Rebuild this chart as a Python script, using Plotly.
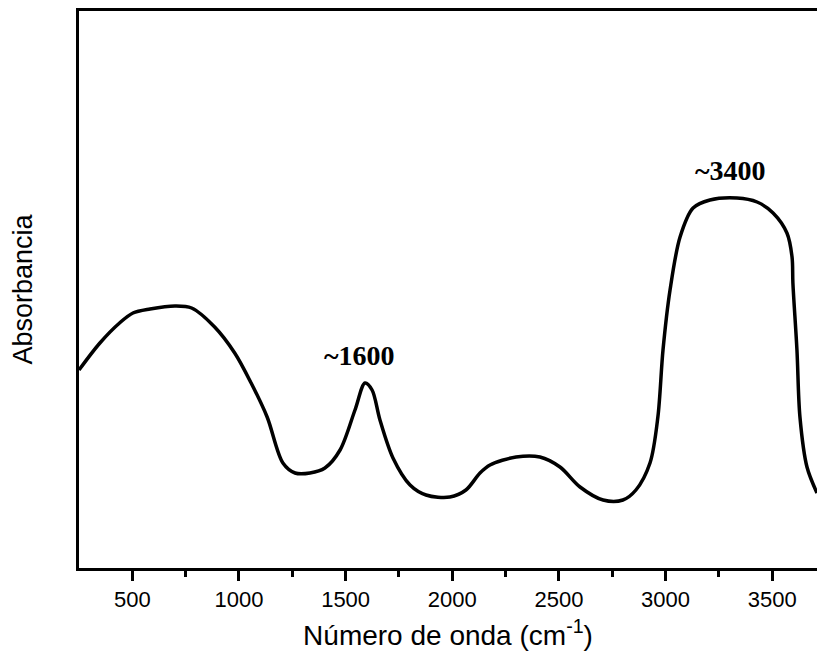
import plotly.graph_objects as go

wavenumber = [250, 348, 440, 503, 583, 700, 778, 886, 980, 1057, 1132, 1206, 1263, 1333, 1403, 1474, 1544, 1591, 1624,
              1661, 1722, 1802, 1877, 1989, 2064, 2130, 2177, 2299, 2411, 2505, 2599, 2707, 2800, 2861, 2927,
              2964, 2988, 3021, 3068, 3129, 3208, 3335, 3429, 3504, 3569, 3593, 3597, 3616, 3630, 3663, 3710]
absorbance = [1.98, 2.25, 2.45, 2.55, 2.59, 2.62, 2.60, 2.41, 2.15, 1.85, 1.51, 1.05, 0.95, 0.95, 1.00, 1.18, 1.58, 1.85, 1.78,
              1.48, 1.10, 0.83, 0.73, 0.71, 0.78, 0.95, 1.03, 1.11, 1.11, 1.01, 0.81, 0.68, 0.68, 0.78, 1.05,
              1.51, 2.18, 2.78, 3.31, 3.60, 3.68, 3.70, 3.66, 3.55, 3.35, 3.11, 2.85, 2.18, 1.51, 1.01, 0.75]

tick_vals = [500, 1000, 1500, 2000, 2500, 3000, 3500]
peak_labels = ["~1600", "~3400"]
peak_x = [1565, 3305]
peak_y = [2.13, 3.98]

fig = go.Figure()
fig.add_trace(go.Scatter(x=wavenumber, y=absorbance, mode="lines",
                         line=dict(color="black", width=3.5, shape="spline", smoothing=0.9),
                         hoverinfo="skip", showlegend=False))

for t, xx, yy in zip(peak_labels, peak_x, peak_y):
    fig.add_annotation(x=xx, y=yy, text=f"<b>{t}</b>", showarrow=False,
                       font=dict(family="Liberation Serif", size=28, color="black"))

fig.update_layout(
    width=817, height=656,
    margin=dict(l=79, r=0, t=11, b=88),
    plot_bgcolor="white", paper_bgcolor="white",
    showlegend=False,
    xaxis=dict(range=[250, 3710], tickvals=tick_vals, ticks="outside", ticklen=10, tickwidth=2.5,
               tickcolor="black", showline=True, linecolor="black", linewidth=3, mirror=True,
               showgrid=False, zeroline=False,
               minor=dict(tickvals=[750, 1250, 1750, 2250, 2750, 3250], ticks="outside", ticklen=6,
                          tickwidth=2.5, tickcolor="black"),
               tickfont=dict(family="Liberation Sans", size=22, color="black"),
               title=dict(text="Número de onda (cm<sup>-1</sup>)", standoff=14,
                          font=dict(family="Liberation Sans", size=28, color="black"))),
    yaxis=dict(range=[0, 5.57], showticklabels=False, ticks="", showline=True, linecolor="black",
               linewidth=3, showgrid=False, zeroline=False,
               title=dict(text="Absorbancia", standoff=36,
                          font=dict(family="Liberation Sans", size=27, color="black"))),
)

fig.write_html("out.html")
